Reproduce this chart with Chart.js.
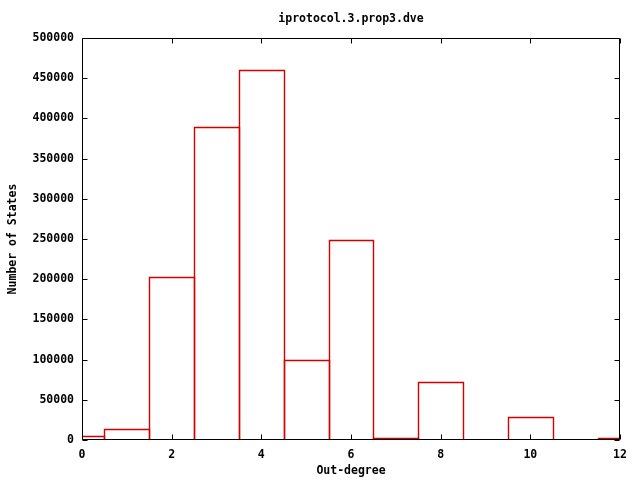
<!DOCTYPE html>
<html><head><meta charset="utf-8">
<script src="https://cdn.jsdelivr.net/npm/chart.js@4/dist/chart.umd.min.js"></script>
<style>html,body{margin:0;padding:0;background:#fff;}</style>
</head><body>
<canvas id="c" width="640" height="480"></canvas>
<script>
const chartTitle = 'iprotocol.3.prop3.dve';
const xTitle = 'Out-degree';
const yTitle = 'Number of States';
const outDegrees = [0, 1, 2, 3, 4, 5, 6, 7, 8, 9, 10, 11, 12];
const stateCounts = [5000, 13700, 202700, 389500, 460200, 99500, 248700, 2000, 72100, 0, 28600, 0, 2000];
const xTickValues = [0, 2, 4, 6, 8, 10, 12];
const yTickValues = [0, 50000, 100000, 150000, 200000, 250000, 300000, 350000, 400000, 450000, 500000];

const FONT = {family: "'DejaVu Sans Mono', 'Liberation Mono', monospace", size: 11.5, weight: 'bold'};
const BAR_COLOR = '#d40000';

// gnuplot-style outlines (shared edges) for the bar elements laid out by Chart.js
const outlinePlugin = {
  id: 'outline',
  afterDatasetsDraw(chart) {
    const {ctx, chartArea: a} = chart;
    const meta = chart.getDatasetMeta(0);
    ctx.save();
    ctx.beginPath();
    ctx.rect(a.left, a.top, a.right - a.left, a.bottom - a.top);
    ctx.clip();
    ctx.strokeStyle = BAR_COLOR;
    ctx.lineWidth = 1.4;
    meta.data.forEach(el => {
      const p = el.getProps(['x', 'y', 'base', 'width'], true);
      if (Math.abs(p.base - p.y) < 0.5) return;
      const l = Math.round(p.x - p.width / 2) + 0.5;
      const r = Math.round(p.x + p.width / 2) + 0.5;
      const t = Math.round(p.y) + 0.5;
      const b = Math.round(p.base);
      ctx.beginPath();
      ctx.moveTo(l, b); ctx.lineTo(l, t); ctx.lineTo(r, t); ctx.lineTo(r, b);
      ctx.stroke();
    });
    ctx.restore();
  }
};

const framePlugin = {
  id: 'frame',
  afterDatasetsDraw(chart) {
    const {ctx, chartArea: a, scales: {x, y}} = chart;
    const L = Math.round(a.left) + 0.5, R = Math.round(a.right) - 0.5;
    const T = Math.round(a.top) + 0.5, B = Math.round(a.bottom) - 0.5;
    ctx.save();
    ctx.strokeStyle = '#000';
    ctx.lineWidth = 1;
    ctx.beginPath();
    ctx.rect(L, T, R - L, B - T);
    const tl = 5;
    xTickValues.forEach(v => {
      const px = Math.round(x.getPixelForValue(v)) + 0.5;
      ctx.moveTo(px, B); ctx.lineTo(px, B - tl);
      ctx.moveTo(px, T); ctx.lineTo(px, T + tl);
    });
    yTickValues.forEach(v => {
      const py = Math.round(y.getPixelForValue(v)) + 0.5;
      ctx.moveTo(L, py); ctx.lineTo(L + tl, py);
      ctx.moveTo(R, py); ctx.lineTo(R - tl, py);
    });
    ctx.stroke();
    ctx.fillStyle = '#000';
    ctx.font = `${FONT.weight} ${FONT.size}px ${FONT.family}`;
    ctx.textAlign = 'center';
    ctx.textBaseline = 'middle';
    ctx.fillText(chartTitle, (a.left + a.right) / 2, 19);
    ctx.restore();
  }
};

new Chart(document.getElementById('c'), {
  type: 'bar',
  data: {
    datasets: [{
      data: outDegrees.map((d, i) => ({x: d, y: stateCounts[i]})),
      backgroundColor: 'rgba(0,0,0,0)',
      borderColor: BAR_COLOR,
      borderWidth: 0,
      barPercentage: 1,
      categoryPercentage: 1,
      clip: 0
    }]
  },
  options: {
    responsive: false,
    animation: false,
    devicePixelRatio: 1,
    layout: {padding: {top: 38, right: 20, left: 0, bottom: 0}},
    plugins: {legend: {display: false}, tooltip: {enabled: false}, title: {display: false}},
    scales: {
      x: {
        type: 'linear', min: 0, max: 12, offset: false,
        grid: {display: false, drawTicks: false},
        border: {display: false},
        afterBuildTicks: s => { s.ticks = xTickValues.map(v => ({value: v})); },
        afterFit: s => { s.height = 40; },
        ticks: {font: FONT, color: '#000', padding: 8, maxRotation: 0, autoSkip: false, callback: v => String(v)},
        title: {display: true, text: xTitle, font: FONT, color: '#000', padding: {top: 0, bottom: 2}}
      },
      y: {
        type: 'linear', min: 0, max: 500000,
        grid: {display: false, drawTicks: false},
        border: {display: false},
        afterBuildTicks: s => { s.ticks = yTickValues.map(v => ({value: v})); },
        afterFit: s => { s.width = 82; },
        ticks: {font: FONT, color: '#000', padding: 8, autoSkip: false, callback: v => String(v)},
        title: {display: true, text: yTitle, font: FONT, color: '#000', padding: {top: 6, bottom: 0}}
      }
    }
  },
  plugins: [outlinePlugin, framePlugin]
});
</script>
</body></html>
